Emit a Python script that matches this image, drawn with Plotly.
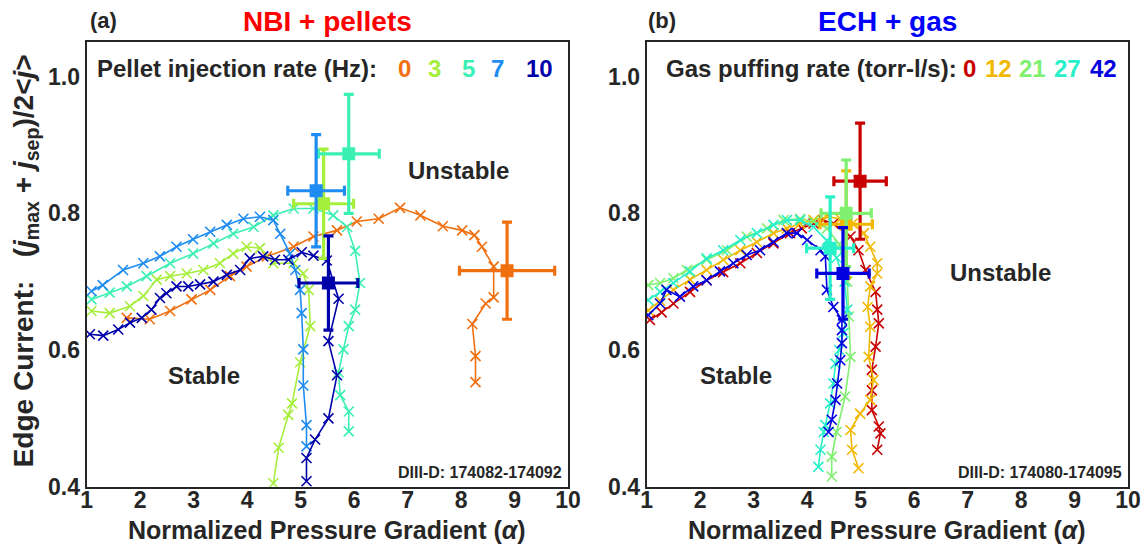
import plotly.graph_objects as go

FONT = "Liberation Sans, Arial, sans-serif"
DARK = "#262626"

# ---------------- Panel (a): NBI + pellets ----------------
pellet_rates = ["0", "3", "5", "7", "10"]
pellet_colors = ["#F07010", "#A6EE3C", "#3CF0B4", "#1E8CF0", "#0000AA"]

a0_x = [1.75, 2.18, 2.56, 2.96, 3.31, 3.68, 3.99, 4.37, 4.87, 5.24, 5.68, 6.05, 6.46, 6.86, 7.24, 7.66, 8.02, 8.25, 8.39, 8.61, 8.61, 8.46, 8.21, 8.27, 8.27]
a0_y = [0.647, 0.645, 0.657, 0.674, 0.688, 0.708, 0.722, 0.737, 0.751, 0.766, 0.775, 0.788, 0.792, 0.808, 0.797, 0.781, 0.775, 0.768, 0.751, 0.722, 0.677, 0.668, 0.638, 0.591, 0.553]

a3_x = [1.09, 1.43, 1.81, 2.06, 2.31, 2.56, 2.87, 3.18, 3.49, 3.74, 3.99, 4.24, 4.49, 4.87, 5.05, 5.15, 5.18, 4.99, 4.84, 4.77, 4.59, 4.49]
a3_y = [0.657, 0.654, 0.664, 0.679, 0.703, 0.708, 0.712, 0.717, 0.727, 0.741, 0.751, 0.749, 0.727, 0.727, 0.712, 0.688, 0.635, 0.582, 0.522, 0.505, 0.457, 0.405]

a5_x = [1.09, 1.43, 1.75, 2.12, 2.56, 2.99, 3.37, 3.74, 4.12, 4.49, 4.87, 5.24, 5.61, 5.87, 6.02, 6.11, 6.02, 5.90, 5.80, 5.71, 5.74, 5.90, 5.90]
a5_y = [0.674, 0.684, 0.693, 0.708, 0.727, 0.741, 0.756, 0.770, 0.780, 0.797, 0.807, 0.807, 0.797, 0.780, 0.745, 0.698, 0.659, 0.635, 0.601, 0.567, 0.534, 0.510, 0.481]

a7_x = [1.09, 1.30, 1.68, 2.06, 2.37, 2.68, 2.99, 3.31, 3.62, 3.93, 4.24, 4.49, 4.62, 4.80, 4.90, 4.99, 5.02, 5.05, 5.05, 5.11, 5.11]
a7_y = [0.686, 0.695, 0.717, 0.727, 0.737, 0.751, 0.762, 0.773, 0.783, 0.792, 0.795, 0.790, 0.770, 0.741, 0.717, 0.688, 0.654, 0.601, 0.548, 0.490, 0.459]

a10_x = [1.06, 1.31, 1.59, 1.81, 2.03, 2.21, 2.37, 2.49, 2.68, 2.90, 3.12, 3.37, 3.62, 3.87, 4.05, 4.30, 4.52, 4.77, 5.02, 5.24, 5.49, 5.71, 5.52, 5.68, 5.52, 5.27, 5.11, 5.11]
a10_y = [0.623, 0.621, 0.630, 0.640, 0.647, 0.659, 0.676, 0.683, 0.693, 0.693, 0.696, 0.700, 0.710, 0.717, 0.734, 0.737, 0.732, 0.732, 0.743, 0.738, 0.731, 0.675, 0.613, 0.563, 0.500, 0.469, 0.442, 0.408]

# measured points with error bars (alpha, current, alpha err, current err)
a_meas_x = [8.86, 5.43, 5.90, 5.29, 5.52]
a_meas_y = [0.716, 0.814, 0.887, 0.833, 0.698]
a_meas_ex = [0.89, 0.56, 0.57, 0.53, 0.55]
a_meas_ey = [0.071, 0.080, 0.087, 0.082, 0.069]

# ---------------- Panel (b): ECH + gas ----------------
gas_rates = ["0", "12", "21", "27", "42"]
gas_colors = ["#C80000", "#F2B800", "#7FF070", "#28F0C8", "#0000E0"]

b0_x = [1.06, 1.28, 1.50, 1.81, 2.12, 2.43, 2.75, 3.06, 3.37, 3.68, 3.90, 4.12, 4.30, 4.49, 4.81, 4.96, 5.09, 5.28, 5.31, 5.34, 5.28, 5.21, 5.21, 5.21, 5.34, 5.37, 5.31]
b0_y = [0.644, 0.655, 0.668, 0.685, 0.702, 0.714, 0.727, 0.742, 0.756, 0.771, 0.778, 0.785, 0.790, 0.785, 0.766, 0.746, 0.717, 0.685, 0.659, 0.639, 0.605, 0.571, 0.541, 0.512, 0.488, 0.478, 0.454]

b12_x = [1.03, 1.25, 1.50, 1.81, 2.12, 2.43, 2.75, 3.06, 3.37, 3.62, 3.87, 4.12, 4.37, 4.62, 4.85, 5.06, 5.18, 5.31, 5.31, 5.18, 5.13, 5.18, 5.15, 5.24, 5.18, 4.99, 4.81, 4.84, 4.96]
b12_y = [0.658, 0.672, 0.688, 0.703, 0.717, 0.732, 0.746, 0.758, 0.771, 0.778, 0.785, 0.790, 0.795, 0.792, 0.785, 0.771, 0.751, 0.727, 0.712, 0.693, 0.663, 0.634, 0.590, 0.556, 0.527, 0.507, 0.483, 0.454, 0.427]

b21_x = [1.03, 1.25, 1.50, 1.75, 2.12, 2.50, 2.87, 3.25, 3.56, 3.87, 4.12, 4.37, 4.60, 4.75, 4.78, 4.81, 4.71, 4.55, 4.46, 4.46]
b21_y = [0.695, 0.698, 0.705, 0.717, 0.732, 0.746, 0.766, 0.778, 0.790, 0.792, 0.788, 0.778, 0.755, 0.700, 0.649, 0.590, 0.532, 0.480, 0.444, 0.415]

b27_x = [1.03, 1.25, 1.50, 1.81, 2.12, 2.43, 2.75, 3.06, 3.37, 3.62, 3.87, 4.12, 4.37, 4.55, 4.70, 4.75, 4.68, 4.60, 4.53, 4.49, 4.43, 4.34, 4.31, 4.25, 4.21]
b27_y = [0.673, 0.685, 0.698, 0.715, 0.734, 0.746, 0.761, 0.771, 0.783, 0.790, 0.790, 0.780, 0.760, 0.735, 0.700, 0.659, 0.625, 0.600, 0.580, 0.551, 0.522, 0.490, 0.480, 0.454, 0.429]

b42_x = [1.03, 1.25, 1.37, 1.62, 1.87, 2.12, 2.37, 2.62, 2.87, 3.12, 3.37, 3.62, 3.81, 4.00, 4.25, 4.34, 4.37, 4.49, 4.65, 4.65, 4.65, 4.62, 4.56, 4.53, 4.46, 4.40]
b42_y = [0.651, 0.668, 0.688, 0.678, 0.693, 0.702, 0.715, 0.727, 0.739, 0.746, 0.758, 0.771, 0.771, 0.761, 0.746, 0.737, 0.688, 0.663, 0.644, 0.629, 0.610, 0.585, 0.551, 0.527, 0.498, 0.480]

b_meas_x = [4.99, 4.73, 4.73, 4.43, 4.67]
b_meas_y = [0.847, 0.784, 0.800, 0.749, 0.712]
b_meas_ex = [0.49, 0.49, 0.47, 0.44, 0.49]
b_meas_ey = [0.085, 0.078, 0.078, 0.075, 0.067]

x_ticks = [1, 2, 3, 4, 5, 6, 7, 8, 9, 10]
y_ticks = [0.4, 0.6, 0.8, 1.0]
y_ticklabels = ["0.4", "0.6", "0.8", "1.0"]

fig = go.Figure()

def add_curves(curves, colors, xa, ya):
    for (cx, cy), col in zip(curves, colors):
        fig.add_trace(go.Scatter(
            x=cx, y=cy, mode="lines+markers", xaxis=xa, yaxis=ya,
            line=dict(color=col, width=1.6),
            marker=dict(symbol="x-thin", size=10, line=dict(color=col, width=1.6)),
            showlegend=False, hoverinfo="skip"))

def add_meas(mx, my, mex, mey, colors, xa, ya):
    for i, col in enumerate(colors):
        fig.add_trace(go.Scatter(
            x=[mx[i]], y=[my[i]], mode="markers", xaxis=xa, yaxis=ya,
            marker=dict(symbol="square", size=13, color=col),
            error_x=dict(type="data", array=[mex[i]], color=col, thickness=3.2, width=5),
            error_y=dict(type="data", array=[mey[i]], color=col, thickness=3.2, width=5),
            showlegend=False, hoverinfo="skip"))

add_curves([(a0_x, a0_y), (a3_x, a3_y), (a5_x, a5_y), (a7_x, a7_y), (a10_x, a10_y)],
           pellet_colors, "x", "y")
add_meas(a_meas_x, a_meas_y, a_meas_ex, a_meas_ey, pellet_colors, "x", "y")

add_curves([(b0_x, b0_y), (b12_x, b12_y), (b21_x, b21_y), (b27_x, b27_y), (b42_x, b42_y)],
           gas_colors, "x2", "y2")
add_meas(b_meas_x, b_meas_y, b_meas_ex, b_meas_ey, gas_colors, "x2", "y2")

axis_common = dict(
    showline=True, mirror=True, linecolor=DARK, linewidth=2,
    showgrid=False, zeroline=False, ticks="", automargin=False,
    tickfont=dict(family=FONT, size=23, color=DARK, weight="bold"),
)
xaxis_extra = dict(ticklabelstandoff=-8)

fig.update_layout(
    width=1145, height=546,
    margin=dict(l=0, r=0, t=0, b=0, autoexpand=False),
    paper_bgcolor="white", plot_bgcolor="white",
    xaxis=dict(domain=[0.0757, 0.4961], range=[1, 10], tickvals=x_ticks, anchor="y", **axis_common, **xaxis_extra),
    yaxis=dict(domain=[0.1086, 0.9223], range=[0.4, 1.05], tickvals=y_ticks, ticktext=y_ticklabels, anchor="x", **axis_common),
    xaxis2=dict(domain=[0.5648, 0.9852], range=[1, 10], tickvals=x_ticks, anchor="y2", **axis_common, **xaxis_extra),
    yaxis2=dict(domain=[0.1086, 0.9223], range=[0.4, 1.05], tickvals=y_ticks, ticktext=y_ticklabels, anchor="x2", **axis_common),
)

ann = []
def text(x, y, s, size, color=DARK, xref="x", yref="y", xanchor="center", yanchor="middle", angle=0):
    ann.append(dict(x=x, y=y, xref=xref, yref=yref, text=s, showarrow=False,
                    xanchor=xanchor, yanchor=yanchor, textangle=angle,
                    font=dict(family=FONT, size=size, color=color, weight="bold")))

# titles
text(0.0765, 0.962, "(a)", 22, xref="paper", yref="paper", xanchor="left")
text(0.2858, 0.960, "NBI + pellets", 28, color="#FF0000", xref="paper", yref="paper")
text(0.5645, 0.962, "(b)", 22, xref="paper", yref="paper", xanchor="left")
text(0.7750, 0.960, "ECH + gas", 28, color="#0000FF", xref="paper", yref="paper")

# axis titles
text(0.2858, 0.029, "Normalized Pressure Gradient (<i>α</i>)", 25, xref="paper", yref="paper")
text(0.7750, 0.029, "Normalized Pressure Gradient (<i>α</i>)", 25, xref="paper", yref="paper")
text(0.023, 0.522,
     "Edge Current:&nbsp;&nbsp;&nbsp;(<i>j</i><sub>max</sub> + <i>j</i><sub>sep</sub>)/2&lt;<i>j</i>&gt;",
     28, xref="paper", yref="paper", angle=-90)

# legends inside panels
text(1.15, 1.012, "Pellet injection rate (Hz):", 24, xanchor="left", xref="x", yref="y")
for lab, col, px in zip(pellet_rates, pellet_colors, [6.94, 7.51, 8.14, 8.69, 9.46]):
    text(px, 1.012, lab, 24, color=col)
text(1.32, 1.012, "Gas puffing rate (torr-l/s):", 24, xanchor="left", xref="x2", yref="y2")
for lab, col, px in zip(gas_rates, gas_colors, [7.04, 7.58, 8.22, 8.87, 9.54]):
    text(px, 1.012, lab, 24, color=col, xref="x2", yref="y2")

# region labels
text(7.96, 0.862, "Unstable", 24)
text(3.20, 0.562, "Stable", 24)
text(7.62, 0.714, "Unstable", 24, xref="x2", yref="y2")
text(2.67, 0.562, "Stable", 24, xref="x2", yref="y2")

# shot ranges
text(9.92, 0.421, "DIII-D: 174082-174092", 16, xanchor="right")
text(9.92, 0.421, "DIII-D: 174080-174095", 16, xanchor="right", xref="x2", yref="y2")

fig.update_layout(annotations=ann)
fig.write_html("out.html",
               config={"displayModeBar": False},
               post_script="document.body.style.margin='0px';document.body.style.overflow='hidden';")
